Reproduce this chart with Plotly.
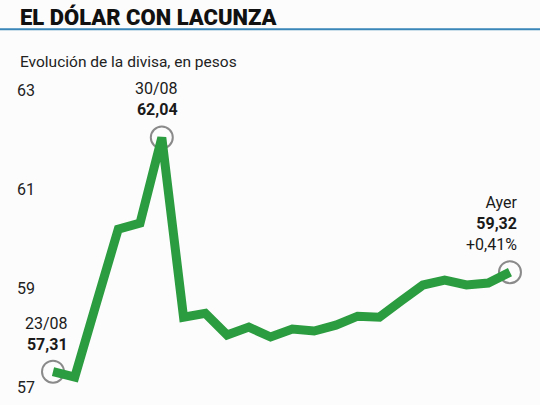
import plotly.graph_objects as go

# cotizacion diaria del dolar (pesos), del 23/08 a "ayer"
fechas = ["23/08", "26/08", "27/08", "28/08", "29/08", "30/08",
          "02/09", "03/09", "04/09", "05/09", "06/09", "09/09", "10/09",
          "11/09", "12/09", "13/09", "16/09", "17/09", "18/09", "19/09",
          "20/09", "Ayer"]
valores = [57.31, 57.20, 58.70, 60.19, 60.31, 62.04,
           58.41, 58.49, 58.05, 58.21, 58.01, 58.17, 58.13,
           58.25, 58.43, 58.41, 58.74, 59.06, 59.16, 59.06,
           59.10, 59.32]
destacados = [0, 5, 21]
etiquetas = {
    0: "23/08<br><b>57,31</b>",
    5: "30/08<br><b>62,04</b>",
    21: "Ayer<br><b>59,32</b><br>+0,41%",
}
y_ticks = [57, 59, 61, 63]

verde = "#2b9c3f"
font_fam = "Roboto, sans-serif"

x = list(range(len(valores)))

fig = go.Figure()
fig.add_trace(go.Scatter(
    x=[x[i] for i in destacados], y=[valores[i] for i in destacados],
    mode="markers", hoverinfo="skip", showlegend=False,
    marker=dict(size=22, color="rgba(0,0,0,0)",
                line=dict(color="#8a8a8a", width=2)),
))
fig.add_trace(go.Scatter(
    x=x, y=valores, mode="lines", showlegend=False,
    line=dict(color=verde, width=9),
))

# textos de los puntos destacados
pos = {0: ("right", 17, 16), 5: ("center", -5, 17), 21: ("right", 10, 16)}
for i, txt in etiquetas.items():
    anchor, dx, dy = pos[i]
    fig.add_annotation(x=x[i], y=valores[i], text=txt, showarrow=False,
                       xanchor=anchor, yanchor="bottom", align="right",
                       xshift=dx, yshift=dy,
                       font=dict(size=16, color="#1a1a1a", family=font_fam))

fig.add_annotation(x=0.008, y=0.958, xref="paper", yref="paper",
                   text="EL DÓLAR CON LACUNZA", showarrow=False,
                   xanchor="left", yanchor="middle",
                   font=dict(size=22, color="#111111", family=font_fam,
                             weight=900))
fig.add_annotation(x=0.008, y=0.847, xref="paper", yref="paper",
                   text="Evolución de la divisa, en pesos", showarrow=False,
                   xanchor="left", yanchor="middle",
                   font=dict(size=15.5, color="#222222", family=font_fam))
fig.add_shape(type="line", xref="paper", yref="paper",
              x0=-0.03, x1=1.0, y0=0.928, y1=0.928,
              line=dict(color="#3a86b8", width=2))

fig.update_xaxes(range=[-1.792, 22.38], visible=False)
fig.update_yaxes(range=[56.636, 64.818], tickvals=y_ticks,
                 ticktext=[str(v) for v in y_ticks],
                 ticklabelposition="inside", showgrid=False, zeroline=False,
                 showline=False, ticks="",
                 tickfont=dict(size=16, color="#222222", family=font_fam))

fig.update_layout(
    width=540, height=405,
    margin=dict(l=14, r=0, t=0, b=0),
    paper_bgcolor="#fcfcfc", plot_bgcolor="#fcfcfc",
)

fig.write_html("out.html", config={"displayModeBar": False},
               post_script="document.body.style.margin='0';")
